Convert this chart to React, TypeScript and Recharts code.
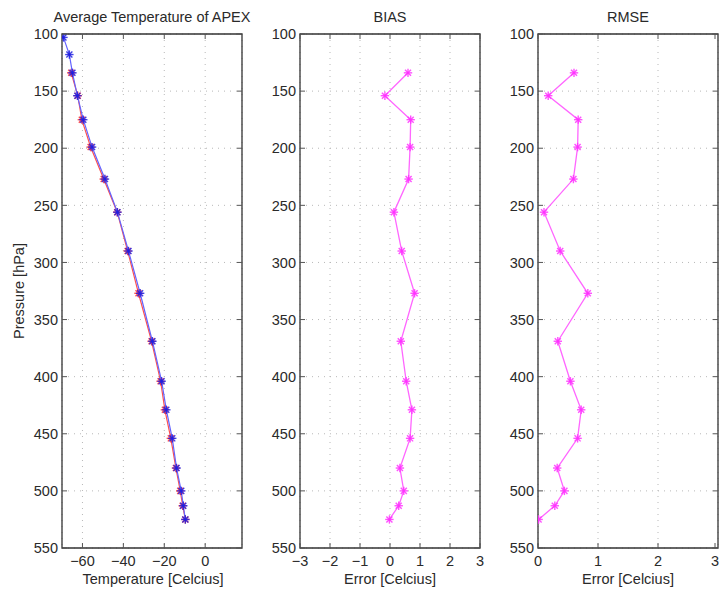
import React from "react";
import {
  ScatterChart,
  Scatter,
  XAxis,
  YAxis,
  CartesianGrid,
  ReferenceArea,
} from "recharts";

// pressure levels [hPa]
const pressure = [103, 118, 134, 154, 175, 199, 227, 256, 290, 327, 369, 404, 429, 454, 480, 500, 513, 525];
// APEX average temperature at every level
const apexTemp = [-69.3, -66.4, -64.9, -62.5, -59.6, -55.3, -49.0, -42.9, -37.5, -31.8, -25.8, -21.3, -19.0, -16.1, -14.0, -11.7, -10.7, -9.7];
// reference temperature, from 134 hPa down
const refTemp = [-65.5, -62.3, -60.3, -56.0, -49.6, -43.0, -37.9, -32.6, -26.2, -21.8, -19.7, -16.8, -14.3, -12.2, -11.0, -9.7];
const bias = [0.6, -0.17, 0.69, 0.67, 0.62, 0.13, 0.39, 0.82, 0.36, 0.54, 0.73, 0.67, 0.33, 0.46, 0.29, -0.02];
const rmse = [0.6, 0.17, 0.67, 0.66, 0.59, 0.1, 0.37, 0.83, 0.33, 0.54, 0.72, 0.66, 0.32, 0.44, 0.28, 0.01];

const pressureTicks = [100, 150, 200, 250, 300, 350, 400, 450, 500, 550];
const tempTicks = [-60, -40, -20, 0];
const biasTicks = [-3, -2, -1, 0, 1, 2, 3];
const rmseTicks = [0, 1, 2, 3];

const FONT = "'Liberation Sans', Arial, Helvetica, sans-serif";
const FS = 14.5;
const H = 593;
const TOP = 34;
const BOTTOM = 548;
const PW = 180;

const fmt = (v: number) => (v < 0 ? "\u2212" + Math.abs(v) : String(v));

const star = (color: string) => (props: any) => {
  const { cx, cy } = props;
  if (cx == null || cy == null) return <g />;
  const r = 4.2;
  const d = r * 0.72;
  return (
    <g stroke={color} strokeWidth={1.4} strokeOpacity={0.85}>
      <line x1={cx - r} x2={cx + r} y1={cy} y2={cy} />
      <line x1={cx} x2={cx} y1={cy - r} y2={cy + r} />
      <line x1={cx - d} x2={cx + d} y1={cy - d} y2={cy + d} />
      <line x1={cx - d} x2={cx + d} y1={cy + d} y2={cy - d} />
    </g>
  );
};

const yTick = (left: number) => (props: any) => {
  const { x, y, payload } = props;
  return (
    <g>
      <text x={x} y={y} dy="0.36em" textAnchor="end" fontSize={FS} fontFamily={FONT} fill="#2a2a2a">
        {payload.value}
      </text>
      <line x1={left} x2={left + 5} y1={y} y2={y} stroke="#555" />
      <line x1={left + PW - 5} x2={left + PW} y1={y} y2={y} stroke="#555" />
    </g>
  );
};

const xTick = (props: any) => {
  const { x, y, payload } = props;
  return (
    <g>
      <text x={x} y={y + 18} textAnchor="middle" fontSize={FS} fontFamily={FONT} fill="#2a2a2a">
        {fmt(payload.value)}
      </text>
      <line x1={x} x2={x} y1={y} y2={y - 5} stroke="#555" />
      <line x1={x} x2={x} y1={TOP} y2={TOP + 5} stroke="#555" />
    </g>
  );
};

type Series = { data: { t: number; p: number }[]; line: string; marker: string; width: number };

function Panel({
  left,
  width,
  marginLeft,
  xDomain,
  xTicks,
  series,
}: {
  left: number;
  width: number;
  marginLeft: number;
  xDomain: [number, number];
  xTicks: number[];
  series: Series[];
}) {
  const yW = 40;
  const plotLeft = marginLeft + yW;
  return (
    <div style={{ position: "absolute", left, top: 0, width, height: H }}>
      <ScatterChart
        width={width}
        height={H}
        margin={{ top: TOP, bottom: H - BOTTOM - 30, left: marginLeft, right: width - plotLeft - PW }}
      >
        <CartesianGrid stroke="#b8b8b8" strokeDasharray="1 5" />
        <XAxis
          type="number"
          dataKey="t"
          domain={xDomain}
          ticks={xTicks}
          height={30}
          axisLine={false}
          tickLine={false}
          tickSize={0}
          tickMargin={0}
          tick={xTick}
          allowDataOverflow
        />
        <YAxis
          type="number"
          dataKey="p"
          domain={[100, 550]}
          ticks={pressureTicks}
          reversed
          width={yW}
          axisLine={false}
          tickLine={false}
          tickSize={0}
          tickMargin={4}
          tick={yTick(plotLeft)}
          allowDataOverflow
        />
        <ReferenceArea
          x1={xDomain[0]}
          x2={xDomain[1]}
          y1={100}
          y2={550}
          fill="none"
          fillOpacity={0}
          stroke="#333"
          strokeWidth={1.3}
        />
        {series.map((s, i) => (
          <Scatter
            key={i}
            data={s.data}
            fill={s.marker}
            line={{ stroke: s.line, strokeWidth: s.width }}
            lineType="joint"
            shape={star(s.marker)}
            isAnimationActive={false}
          />
        ))}
      </ScatterChart>
    </div>
  );
}

export default function App() {
  const apexData = pressure.map((p, i) => ({ p, t: apexTemp[i] }));
  const lower = pressure.slice(2);
  const refData = lower.map((p, i) => ({ p, t: refTemp[i] }));
  const biasData = lower.map((p, i) => ({ p, t: bias[i] }));
  const rmseData = lower.map((p, i) => ({ p, t: rmse[i] }));

  const title = { fontSize: FS, fontFamily: FONT, fill: "#2a2a2a", textAnchor: "middle" as const };

  return (
    <div style={{ position: "absolute", left: 0, top: 0, width: 719, height: H, background: "#fff", overflow: "hidden" }}>
      <Panel
        left={0}
        width={250}
        marginLeft={22}
        xDomain={[-70, 18]}
        xTicks={tempTicks}
        series={[
          { data: refData, line: "#ff5050", marker: "#ff3030", width: 1.2 },
          { data: apexData, line: "#6464ff", marker: "#2020e0", width: 1.2 },
        ]}
      />
      <Panel
        left={250}
        width={240}
        marginLeft={10}
        xDomain={[-3, 3]}
        xTicks={biasTicks}
        series={[{ data: biasData, line: "#ff66ff", marker: "#ff33ff", width: 1.3 }]}
      />
      <Panel
        left={490}
        width={229}
        marginLeft={8}
        xDomain={[0, 3]}
        xTicks={rmseTicks}
        series={[{ data: rmseData, line: "#ff66ff", marker: "#ff33ff", width: 1.3 }]}
      />
      <svg width={719} height={H} style={{ position: "absolute", left: 0, top: 0, pointerEvents: "none" }}>
        <text x={152} y={21.5} {...title}>Average Temperature of APEX</text>
        <text x={390} y={21.5} {...title}>BIAS</text>
        <text x={628} y={21.5} {...title}>RMSE</text>
        <text x={153} y={583.5} {...title}>Temperature [Celcius]</text>
        <text x={390} y={583.5} {...title}>Error [Celcius]</text>
        <text x={628} y={583.5} {...title}>Error [Celcius]</text>
        <text x={24} y={291} {...title} transform="rotate(-90 24 291)">Pressure [hPa]</text>
      </svg>
    </div>
  );
}
